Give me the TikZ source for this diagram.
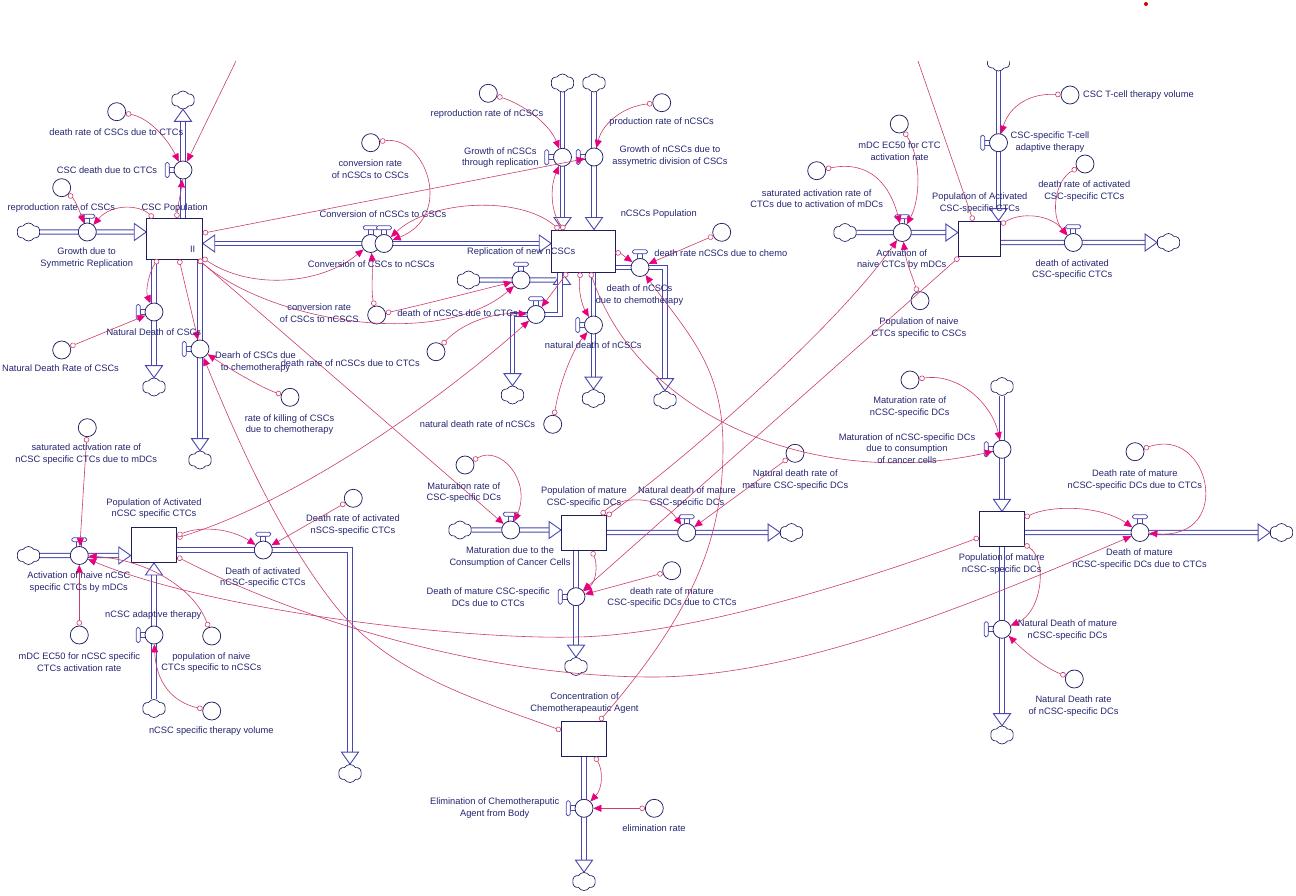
\documentclass[tikz,border=0pt]{standalone}
\usepackage{fontspec}
\newfontfamily\lf{Liberation Sans}
\usetikzlibrary{arrows.meta,shapes.symbols,calc}
\pgfdeclarelayer{bgl}
\pgfdeclarelayer{pipes}
\pgfsetlayers{bgl,pipes,main}
\definecolor{txtc}{RGB}{38,38,115}
\definecolor{navy}{RGB}{30,30,95}
\definecolor{pipec}{RGB}{72,72,175}
\definecolor{connc}{RGB}{205,60,110}
\definecolor{tipc}{RGB}{232,0,125}
\tikzset{
 stock/.style={draw=navy, line width=0.9pt, fill=white, inner sep=0pt, rectangle},
 valve/.style={circle, draw=navy, line width=0.75pt, fill=white, minimum size=18pt, inner sep=0pt},
 aux/.style={circle, draw=navy, line width=0.75pt, fill=white, minimum size=18pt, inner sep=0pt},
 hdl/.style={draw=pipec, line width=0.75pt, fill=white},
 cloudn/.style={cloud, cloud puffs=6, cloud puff arc=115, draw=navy, line width=0.65pt, fill=white, minimum width=23pt, minimum height=18pt, inner sep=0pt, aspect=1.3},
 pipe/.style={draw=pipec, double=white, double distance=3.2pt, line width=1pt},
 ftip/.style={draw=pipec, line width=0.9pt, fill=white, line join=miter},
 conn/.style={draw=connc, line width=0.6pt, {Circle[length=5.5pt,fill=white]}-{Triangle[length=8pt,width=7pt,color=tipc]}},
 conntwo/.style={draw=connc, line width=0.6pt, -{Triangle[length=8pt,width=7pt,color=tipc]}},
 connthree/.style={draw=connc, line width=0.6pt, {Circle[length=5.5pt,fill=white]}-},
 lbl/.style={font=\lf\fontsize{9.3}{11.8}\selectfont, text=txtc, align=center, inner sep=0pt},
}
\newcommand\valveT[3]{%
  \draw[hdl] (#2-2.5,#3-13.8) rectangle (#2+2.5,#3-8.5);
  \draw[hdl,rounded corners=1.6pt] (#2-7.5,#3-17.8) rectangle (#2+7.5,#3-13.8);
  \node[valve] (#1) at (#2,#3) {};}
\newcommand\valveL[3]{%
  \draw[hdl] (#2-13.8,#3-2.5) rectangle (#2-8.5,#3+2.5);
  \draw[hdl,rounded corners=1.6pt] (#2-17.8,#3-7.5) rectangle (#2-13.8,#3+7.5);
  \node[valve] (#1) at (#2,#3) {};}
\newcommand\tipR[1]{\draw[ftip] #1 -- ++(-12,-8.5) -- ++(0,17) -- cycle;}
\newcommand\tipL[1]{\draw[ftip] #1 -- ++(12,-8.5) -- ++(0,17) -- cycle;}
\newcommand\tipD[1]{\draw[ftip] #1 -- ++(-8.5,-12) -- ++(17,0) -- cycle;}
\newcommand\tipU[1]{\draw[ftip] #1 -- ++(-8.5,12) -- ++(17,0) -- cycle;}
\begin{document}
\begin{tikzpicture}[x=1pt,y=-1pt]
\useasboundingbox (0,0) rectangle (1296,896);
\begin{pgfonlayer}{bgl}
\fill[white] (0,0) rectangle (1296,896);
\end{pgfonlayer}
\node[circle, fill=red!85!black, inner sep=0pt, minimum size=4pt] (reddot) at (1146,4) {};

% ---------------- stocks
\node[stock, minimum width=55.6pt, minimum height=40.7pt] (cscP) at (174.5,238.7) {};
\node[stock, minimum width=63.3pt, minimum height=42pt] (ncscP) at (583.3,251) {};
\node[stock, minimum width=42.4pt, minimum height=35.7pt] (actC) at (979.5,239) {};
\node[stock, minimum width=45.7pt, minimum height=35pt] (actN) at (154,545) {};
\node[stock, minimum width=45pt, minimum height=35.7pt] (matC) at (584,533) {};
\node[stock, minimum width=45pt, minimum height=34.3pt] (matN) at (1001.8,529) {};
\node[stock, minimum width=45pt, minimum height=35.3pt] (chemo) at (584,738.7) {};

% ---------------- clouds
\node[cloudn] (cl1) at (28.5,232) {};
\node[cloudn] (cl2) at (183,100) {};
\node[cloudn] (cl3) at (154,387) {};
\node[cloudn] (cl4) at (200,460) {};
\node[cloudn] (cl5) at (562.5,83) {};
\node[cloudn] (cl6) at (594,83) {};
\node[cloudn] (cl7) at (665,400) {};
\node[cloudn] (cl8) at (593.5,398.5) {};
\node[cloudn] (cl9) at (468.5,280) {};
\node[cloudn] (cl10) at (512.5,395) {};
\node[cloudn] (cl11) at (845,232.5) {};
\begin{scope}
\clip (0,62) rectangle (1296,896);
\node[cloudn] (cl12) at (998.5,62) {};
\end{scope}
\node[cloudn] (cl13) at (1168.5,242.5) {};
\node[cloudn] (cl14) at (28.5,555.5) {};
\node[cloudn] (cl15) at (154,708.5) {};
\node[cloudn] (cl16) at (350,773.5) {};
\node[cloudn] (cl17) at (460,530) {};
\node[cloudn] (cl18) at (791.5,532.5) {};
\node[cloudn] (cl19) at (576,666.5) {};
\node[cloudn] (cl20) at (1002,386.5) {};
\node[cloudn] (cl21) at (1281.5,532.5) {};
\node[cloudn] (cl22) at (1002,735) {};
\node[cloudn] (cl23) at (584,881.5) {};

% ---------------- valves
\valveT{vGrow}{87.3}{232}
\valveL{vCscCtc}{183}{170}
\valveL{vNatCsc}{154}{312}
\valveL{vChemoCsc}{200}{349}
\valveT{vConvA}{370.7}{243.5}
\valveT{vConvB}{384}{243.5}
\valveL{vRepl}{562.5}{157.3}
\valveL{vAsym}{594}{157}
\valveT{vChemoN}{640}{267.5}
\valveL{vNatN}{593.5}{325}
\valveT{vReplNew}{521}{280}
\valveT{vCtcN}{536}{314.5}
\valveT{vActC}{902.3}{232.5}
\valveL{vTherC}{998.5}{142.7}
\valveT{vDeathActC}{1073.3}{242.5}
\valveT{vActN}{79.3}{555.5}
\valveL{vTherN}{154}{635}
\valveT{vDeathActN}{263.3}{550}
\valveT{vMatC}{510.7}{530}
\valveT{vNatMatC}{686.7}{532.5}
\valveL{vCtcMatC}{576}{596.7}
\valveL{vMatN}{1002}{449.3}
\valveT{vCtcMatN}{1140}{532.5}
\valveL{vNatMatN}{1002}{629.3}
\valveL{vElim}{584}{808.3}

% ---------------- auxiliaries
\node[aux] (aRepC) at (61.7,187.7) {};
\node[aux] (aDrCtc) at (116.7,111.7) {};
\node[aux] (aNatDr) at (61.7,350) {};
\node[aux] (aKill) at (290,397.3) {};
\node[aux] (aConvNC) at (370.7,142.7) {};
\node[aux] (aConvCN) at (376.7,315) {};
\node[aux] (aDrNCtc) at (436,351.7) {};
\node[aux] (aRepN) at (488.3,93.3) {};
\node[aux] (aProdN) at (661.7,102.7) {};
\node[aux] (aDrChemoN) at (721.7,232.3) {};
\node[aux] (aNatDrN) at (552.7,424.3) {};
\node[aux] (aSatC) at (816.7,170.7) {};
\node[aux] (aEcC) at (899.3,124) {};
\node[aux] (aNaiveC) at (920,300.7) {};
\node[aux] (aVolC) at (1070,95) {};
\node[aux] (aDrActC) at (1085,164) {};
\node[aux] (aSatN) at (87.3,427.7) {};
\node[aux] (aEcN) at (79.3,635) {};
\node[aux] (aNaiveN) at (211.7,636) {};
\node[aux] (aVolN) at (211.7,711) {};
\node[aux] (aDrActN) at (353.3,498.3) {};
\node[aux] (aMatRC) at (465,465) {};
\node[aux] (aNatDrMC) at (795,453.3) {};
\node[aux] (aDrCtcMC) at (671.7,570.7) {};
\node[aux] (aMatRN) at (910,380) {};
\node[aux] (aDrCtcMN) at (1135,451.7) {};
\node[aux] (aNatDrMN) at (1074.3,679) {};
\node[aux] (aElimR) at (654.3,808.3) {};

% ---------------- bend points / free ends
\coordinate (b8) at (665,267.5);
\coordinate (b10a) at (560,314.5);
\coordinate (b10b) at (512.5,314.5);
\coordinate (b11t) at (562,280);
\coordinate (b17) at (350,550);
\coordinate (topA) at (236,61);
\coordinate (topB) at (918,61);

% ---------------- pipes (flows)
\begin{pgfonlayer}{pipes}
\draw[pipe] (cl1) -- ($(cscP.west |- vGrow)+(-12,0)$);
\tipR{(cscP.west |- vGrow)}
\draw[pipe] (cscP.north -| vCscCtc) -- ($(cl2.south)+(0,12)$);
\tipU{(cl2.south)}
\draw[pipe] (cscP.south -| vNatCsc) -- ($(cl3.north)+(0,-12)$);
\tipD{(cl3.north)}
\draw[pipe] (cscP.south -| vChemoCsc) -- ($(cl4.north)+(0,-12)$);
\tipD{(cl4.north)}
\draw[pipe] ($(cscP.east |- vConvA)+(12,0)$) -- ($(ncscP.west |- vConvA)+(-12,0)$);
\tipL{(cscP.east |- vConvA)}
\tipR{(ncscP.west |- vConvA)}
\draw[pipe] (cl5) -- ($(ncscP.north -| vRepl)+(0,-12)$);
\tipD{(ncscP.north -| vRepl)}
\draw[pipe] (cl6) -- ($(ncscP.north -| vAsym)+(0,-12)$);
\tipD{(ncscP.north -| vAsym)}
\draw[pipe] (ncscP.east |- vChemoN) -- (b8) -- ($(cl7.north)+(0,-12)$);
\tipD{(cl7.north)}
\draw[pipe] (ncscP.south -| vNatN) -- ($(cl8.north)+(0,-12)$);
\tipD{(cl8.north)}
\draw[pipe] (cl9) -- ($(b11t)+(-6,0)$);
\tipU{(ncscP.south -| b11t)}
\draw[pipe] (ncscP.south -| b10a) -- (b10a) -- (b10b) -- ($(cl10.north)+(0,-12)$);
\tipD{(cl10.north)}
\draw[pipe] (cl11) -- ($(actC.west |- vActC)+(-12,0)$);
\tipR{(actC.west |- vActC)}
\draw[pipe] (cl12) -- ($(actC.north -| vTherC)+(0,-12)$);
\tipD{(actC.north -| vTherC)}
\draw[pipe] (actC.east |- vDeathActC) -- ($(cl13.west)+(-12,0)$);
\tipR{(cl13.west)}
\draw[pipe] (cl14) -- ($(actN.west |- vActN)+(-12,0)$);
\tipR{(actN.west |- vActN)}
\draw[pipe] (cl15) -- ($(actN.south -| vTherN)+(0,12)$);
\tipU{(actN.south -| vTherN)}
\draw[pipe] (actN.east |- vDeathActN) -- (b17) -- ($(cl16.north)+(0,-12)$);
\tipD{(cl16.north)}
\draw[pipe] (cl17) -- ($(matC.west |- vMatC)+(-12,0)$);
\tipR{(matC.west |- vMatC)}
\draw[pipe] (matC.east |- vNatMatC) -- ($(cl18.west)+(-12,0)$);
\tipR{(cl18.west)}
\draw[pipe] (matC.south -| vCtcMatC) -- ($(cl19.north)+(0,-12)$);
\tipD{(cl19.north)}
\draw[pipe] (cl20) -- ($(matN.north -| vMatN)+(0,-12)$);
\tipD{(matN.north -| vMatN)}
\draw[pipe] (matN.east |- vCtcMatN) -- ($(cl21.west)+(-12,0)$);
\tipR{(cl21.west)}
\draw[pipe] (matN.south -| vNatMatN) -- ($(cl22.north)+(0,-12)$);
\tipD{(cl22.north)}
\draw[pipe] (chemo.south -| vElim) -- ($(cl23.north)+(0,-12)$);
\tipD{(cl23.north)}
\end{pgfonlayer}

% ---------------- connectors
\draw[conn] (aRepC) .. controls (75,200) and (80,212) .. (vGrow);
\draw[conn] (cscP) .. controls (140,205) and (112,203) .. (vGrow);
\draw[conn] (aDrCtc) .. controls (150,118) and (168,140) .. (vCscCtc);
\draw[conn] (cscP) .. controls (178,205) and (181,192) .. (vCscCtc);
\draw[conntwo] (topA) -- (vCscCtc);
\draw[conn] (aNatDr) -- (vNatCsc);
\draw[conn] (cscP) .. controls (150,270) and (145,290) .. (vNatCsc);
\draw[conn] (cscP) .. controls (185,285) and (193,318) .. (vChemoCsc);
\draw[conn] (aKill) .. controls (262,388) and (228,368) .. (vChemoCsc);
\draw[conn] (chemo) .. controls (478,700) and (388,674) .. (333,603) .. controls (278,532) and (239,444) .. (vChemoCsc);
\draw[conn] (aConvNC) .. controls (425,135) and (455,215) .. (vConvB);
\draw[conn] (ncscP) .. controls (520,195) and (430,200) .. (vConvB);
\draw[conn] (aConvCN) .. controls (371,292) and (373,270) .. (vConvA);
\draw[conn] (cscP) .. controls (250,290) and (320,285) .. (vConvA);
\draw[conn] (cscP) -- (vAsym);
\draw[conn] (aRepN) .. controls (525,105) and (550,125) .. (vRepl);
\draw[conn] (ncscP) .. controls (552,215) and (549,190) .. (vRepl);
\draw[conn] (aProdN) .. controls (625,106) and (603,122) .. (vAsym);
\draw[conn] (ncscP) .. controls (620,253) and (624,256) .. (vChemoN);
\draw[conn] (aDrChemoN) -- (vChemoN);
\draw[conn] (chemo) .. controls (700,605) and (723,530) .. (723,447) .. controls (723,367) and (689,335) .. (vChemoN);
\draw[conn] (aNatDrN) .. controls (560,380) and (574,348) .. (vNatN);
\draw[conn] (ncscP) .. controls (578,290) and (582,305) .. (vNatN);
\draw[conn] (ncscP) .. controls (640,420) and (820,490) .. (vMatN);
\draw[conn] (ncscP) -- (vCtcN);
\draw[conn] (aDrNCtc) .. controls (460,325) and (490,312) .. (vCtcN);
\draw[conn] (actN) .. controls (300,500) and (440,400) .. (vCtcN);
\draw[conn] (aConvCN) .. controls (430,303) and (480,290) .. (vReplNew);
\draw[conn] (cscP) .. controls (270,322) and (440,350) .. (vReplNew);
\draw[conn] (cscP) -- (vMatC);
\draw[conn] (aMatRC) .. controls (500,445) and (532,480) .. (vMatC);
\draw[conn] (matC) .. controls (620,495) and (660,495) .. (vNatMatC);
\draw[conn] (aNatDrMC) -- (vNatMatC);
\draw[conn] (matC) .. controls (598,565) and (596,582) .. (vCtcMatC);
\draw[conn] (aDrCtcMC) -- (vCtcMatC);
\draw[conn] (actC) -- (vCtcMatC);
\draw[conn] (matC) .. controls (700,447) and (840,322) .. (vActC);
\draw[conn] (aVolC) .. controls (1025,93) and (1008,110) .. (vTherC);
\draw[conn] (aSatC) .. controls (870,160) and (890,185) .. (vActC);
\draw[conn] (aEcC) .. controls (922,160) and (920,200) .. (vActC);
\draw[conn] (aNaiveC) .. controls (912,275) and (906,262) .. (vActC);
\draw[conn] (actC) .. controls (1020,212) and (1050,214) .. (vDeathActC);
\draw[conn] (aDrActC) .. controls (1055,180) and (1050,215) .. (vDeathActC);
\draw[connthree] (actC) -- (topB);
\draw[conn] (aSatN) -- (vActN);
\draw[conn] (aEcN) -- (vActN);
\draw[conn] (aNaiveN) .. controls (195,590) and (150,560) .. (vActN);
\draw[conn] (matN) .. controls (857,583) and (687,635) .. (577,637) .. controls (457,640) and (210,610) .. (vActN);
\draw[conn] (actN) .. controls (310,625) and (493,677) .. (653,677) .. controls (803,677) and (989,597) .. (vCtcMatN);
\draw[conn] (actN) .. controls (200,526) and (230,528) .. (vDeathActN);
\draw[conn] (aDrActN) -- (vDeathActN);
\draw[conn] (aVolN) .. controls (172,702) and (156,682) .. (vTherN);
\draw[conn] (aMatRN) .. controls (960,373) and (992,405) .. (vMatN);
\draw[conn] (matN) .. controls (1050,505) and (1100,505) .. (vCtcMatN);
\draw[conn] (aDrCtcMN) .. controls (1210,425) and (1235,540) .. (vCtcMatN);
\draw[conn] (matN) .. controls (1048,560) and (1042,612) .. (vNatMatN);
\draw[conn] (aNatDrMN) .. controls (1045,668) and (1025,652) .. (vNatMatN);
\draw[conn] (chemo) .. controls (603,770) and (603,788) .. (vElim);
\draw[conn] (aElimR) -- (vElim);

% ---------------- labels
\node[lbl] (tII) at (192.7,249) {II};
\node[lbl] (t1) at (174.7,207.7) {CSC Population};
\node[lbl] (t2) at (658.8,213.7) {nCSCs Population};
\node[lbl] (t3) at (979.8,202.7) {Population of Activated\\CSC-specific CTCs};
\node[lbl] (t4) at (154,508.5) {Population of Activated\\nCSC specific CTCs};
\node[lbl] (t5) at (584,496.7) {Population of mature\\CSC-specific DCs};
\node[lbl] (t6) at (1001.7,563.7) {Population of mature\\nCSC-specific DCs};
\node[lbl] (t7) at (584.5,702.7) {Concentration of\\Chemotherapeautic Agent};

\node[lbl] (f1) at (86.7,258.3) {Growth due to\\Symmetric Replication};
\node[lbl] (f2) at (107,170) {CSC death due to CTCs};
\node[lbl] (f3) at (153.8,331.7) {Natural Death of CSCs};
\node[lbl] (f4) at (255.5,361.9) {Dearh of CSCs due\\to chemotherapy};
\node[lbl] (f5) at (382.9,214.3) {Conversion of nCSCs to CSCs};
\node[lbl] (f6) at (371.3,263.7) {Conversion of CSCs to nCSCs};
\node[lbl] (f7) at (521.2,251.7) {Replication of new nCSCs};
\node[lbl] (f8) at (500.3,157.5) {Growth of nCSCs\\through replication};
\node[lbl] (f9) at (670,155.8) {Growth of nCSCs due to\\assymetric division of CSCs};
\node[lbl] (f10) at (639.5,294.7) {death of nCSCs\\due to chemotherapy};
\node[lbl] (f11) at (593.3,345) {natural death of nCSCs};
\node[lbl] (f12) at (457.5,313.3) {death of nCSCs due to CTCs};
\node[lbl] (f13) at (901.7,259.5) {Activation of\\naive CTCs by mDCs};
\node[lbl] (f14) at (1050,142) {CSC-specific T-cell\\adaptive therapy};
\node[lbl] (f15) at (1072.2,269.5) {death of activated\\CSC-specific CTCs};
\node[lbl] (f16) at (78.8,581.8) {Activation of naive nCSC\\specific CTCs by mDCs};
\node[lbl] (f17) at (153.3,615) {nCSC adaptive therapy};
\node[lbl] (f18) at (262.8,577.5) {Death of activated\\nCSC-specific CTCs};
\node[lbl] (f19) at (510,556.7) {Maturation due to the\\Consumption of Cancer Cells};
\node[lbl] (f20) at (687,496.7) {Natural death of mature\\CSC-specific DCs};
\node[lbl] (f21) at (488.2,597.5) {Death of mature CSC-specific\\DCs due to CTCs};
\node[lbl] (f22) at (907,448.5) {Maturation of nCSC-specific DCs\\due to consumption\\of cancer cells};
\node[lbl] (f23) at (1139.5,559.3) {Death of mature\\nCSC-specific DCs due to CTCs};
\node[lbl] (f24) at (1067.5,629.8) {Natural Death of mature\\nCSC-specific DCs};
\node[lbl] (f25) at (494.7,807.7) {Elimination of Chemotheraputic\\Agent from Body};

\node[lbl] (x1) at (61.3,207.7) {reproduction rate of CSCs};
\node[lbl] (x2) at (116.3,132.3) {death rate of CSCs due to CTCs};
\node[lbl] (x3) at (60.5,368.3) {Natural Death Rate of CSCs};
\node[lbl] (x4) at (289.5,424.5) {rate of killing of CSCs\\due to chemotherapy};
\node[lbl] (x5) at (370.3,169) {conversion rate\\of nCSCs to CSCs};
\node[lbl] (x6) at (319.2,313.3) {conversion rate\\of CSCs to nCSCS};
\node[lbl] (x7) at (350.3,362.7) {death rate of nCSCs due to CTCs};
\node[lbl] (x8) at (487,114.3) {reproduction rate of nCSCs};
\node[lbl] (x9) at (661.7,121.7) {production rate of nCSCs};
\node[lbl] (x10) at (720.8,252.7) {death rate nCSCs due to chemo};
\node[lbl] (x11) at (477.5,424.3) {natural death rate of nCSCs};
\node[lbl] (x12) at (816.7,198.7) {saturated activation rate of\\CTCs due to activation of mDCs};
\node[lbl] (x13) at (899.5,150.8) {mDC EC50 for CTC\\activation rate};
\node[lbl] (x14) at (919,327.7) {Population of naive\\CTCs specific to CSCs};
\node[lbl] (x15) at (1138.5,95) {CSC T-cell therapy volume};
\node[lbl] (x16) at (1084.3,190.8) {death rate of activated\\CSC-specific CTCs};
\node[lbl] (x17) at (86.3,454.2) {saturated activation rate of\\nCSC specific CTCs due to mDCs};
\node[lbl] (x18) at (79.3,662.5) {mDC EC50 for nCSC specific\\CTCs activation rate};
\node[lbl] (x19) at (211.3,662.5) {population of naive\\CTCs specific to nCSCs};
\node[lbl] (x20) at (211.3,730.7) {nCSC specific therapy volume};
\node[lbl] (x21) at (353,524.8) {Death rate of activated\\nSCS-specific CTCs};
\node[lbl] (x22) at (463.8,492.5) {Maturation rate of\\CSC-specific DCs};
\node[lbl] (x23) at (795.3,479.8) {Natural death rate of\\mature CSC-specific DCs};
\node[lbl] (x24) at (672,597.5) {death rate of mature\\CSC-specific DCs due to CTCs};
\node[lbl] (x25) at (909.7,406.7) {Maturation rate of\\nCSC-specific DCs};
\node[lbl] (x26) at (1134.8,480) {Death rate of mature\\nCSC-specific DCs due to CTCs};
\node[lbl] (x27) at (1073.5,705.8) {Natural Death rate\\of nCSC-specific DCs};
\node[lbl] (x28) at (654,828.3) {elimination rate};
\end{tikzpicture}
\end{document}
